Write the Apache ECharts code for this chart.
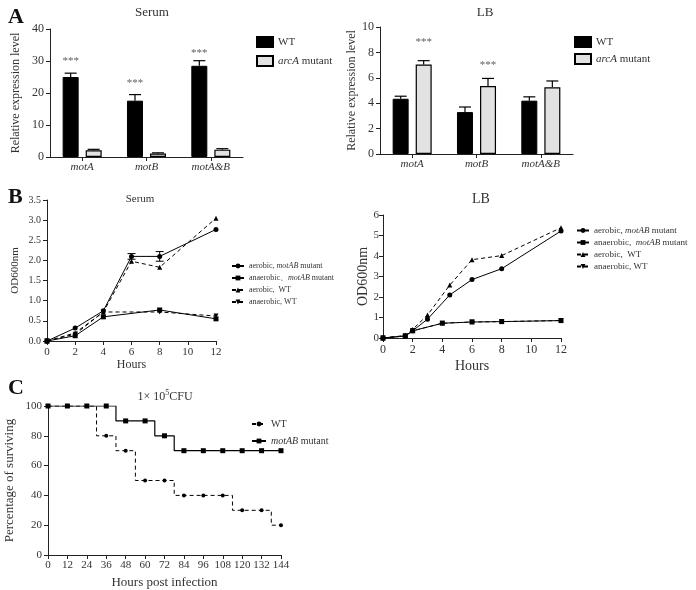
<!DOCTYPE html>
<html><head><meta charset="utf-8">
<script src="https://cdn.jsdelivr.net/npm/echarts@6/dist/echarts.min.js"></script>
<style>html,body{margin:0;padding:0;background:#fff}#c{width:696px;height:590px}</style>
</head><body><div id="c"></div>
<script>
// ---------- DATA ----------
const geneCats = ['motA', 'motB', 'motA&B'];
const serumWT = [25.0, 17.6, 28.5];
const serumWTErr = [1.2, 1.9, 1.6];
const serumMut = [2.1, 1.1, 2.3];
const serumMutErr = [0.3, 0.2, 0.3];
const serumStars = [30, 23, 32.5];          // above WT bars
const lbWT = [4.35, 3.3, 4.2];
const lbWTErr = [0.2, 0.4, 0.3];
const lbMut = [7.05, 5.35, 5.25];
const lbMutErr = [0.3, 0.6, 0.5];
const lbStars = [8.8, 7.0, null];           // above mutant bars

// Growth in serum
const serumAerMutHours = [0, 2, 4, 6, 8, 12];
const serumAerMut = [0, 0.32, 0.75, 2.1, 2.1, 2.77];
const serumAerMutErr = [0, 0, 0, 0.07, 0.12, 0];
const serumAnaMutHours = [0, 2, 4, 8, 12];
const serumAnaMut = [0, 0.13, 0.6, 0.77, 0.55];
const serumAerWTHours = [0, 2, 4, 6, 8, 12];
const serumAerWT = [0, 0.2, 0.72, 1.98, 1.83, 3.05];
const serumAnaWTHours = [0, 2, 4, 8, 12];
const serumAnaWT = [0, 0.17, 0.72, 0.72, 0.62];

// Growth in LB
const lbAerMutHours = [0, 1.5, 2, 3, 4.5, 6, 8, 12];
const lbAerMut = [0, 0.1, 0.35, 0.92, 2.1, 2.85, 3.38, 5.22];
const lbAnaMutHours = [0, 1.5, 2, 4, 6, 8, 12];
const lbAnaMut = [0, 0.1, 0.35, 0.72, 0.78, 0.8, 0.85];
const lbAerWTHours = [0, 1.5, 2, 3, 4.5, 6, 8, 12];
const lbAerWT = [0, 0.12, 0.42, 1.12, 2.58, 3.82, 4.02, 5.38];
const lbAnaWTHours = [0, 1.5, 2, 4, 6, 8, 12];
const lbAnaWT = [0, 0.1, 0.35, 0.72, 0.78, 0.8, 0.85];

// Survival
const survHours = [0, 12, 24, 36, 48, 60, 72, 84, 96, 108, 120, 132, 144];
const survWT = [100, 100, 100, 80, 70, 50, 50, 40, 40, 40, 30, 30, 20];
const survMut = [100, 100, 100, 100, 90, 90, 80, 70, 70, 70, 70, 70, 70];
const wtDropHours = [30, 42, 54, 78, 114, 138];
const wtDropVals = [80, 70, 50, 40, 30, 20];
const mutDropHours = [42, 66, 78];
const mutDropVals = [90, 80, 70];

// ---------- BUILD ----------
const F = 'Liberation Serif';
const TC = '#333';
const zip = (xs, ys) => xs.map((x, i) => [x, ys[i]]);
function kmData(h, v, dh, dv) {
  const pts = h.map((x, i) => ({ value: [x, v[i]] }));
  dh.forEach((x, i) => pts.push({ value: [x, dv[i]], symbol: 'none' }));
  pts.sort((a, b) => a.value[0] - b.value[0] || b.value[1] - a.value[1]);
  return pts;
}
function errSeries(name, xi, yi, vals, errs, dx, cap) {
  return {
    type: 'custom', name: name, xAxisIndex: xi, yAxisIndex: yi, silent: true, z: 5,
    data: vals.map((v, i) => [i, v, errs[i]]),
    renderItem: function (params, api) {
      const a = api.coord([api.value(0), api.value(1)]);
      const b = api.coord([api.value(0), api.value(1) + api.value(2)]);
      const x = a[0] + dx;
      return { type: 'group', children: [
        { type: 'line', shape: { x1: x, y1: a[1], x2: x, y2: b[1] }, style: { stroke: '#000', lineWidth: 1.2 } },
        { type: 'line', shape: { x1: x - cap, y1: b[1], x2: x + cap, y2: b[1] }, style: { stroke: '#000', lineWidth: 1.2 } }
      ]};
    }
  };
}
function lineErr(xi, yi, hours, vals, errs) {
  const d = [];
  hours.forEach((h, i) => { if (errs[i] > 0) d.push([h, vals[i], errs[i]]); });
  return {
    type: 'custom', xAxisIndex: xi, yAxisIndex: yi, silent: true, z: 5, data: d,
    renderItem: function (params, api) {
      const lo = api.coord([api.value(0), api.value(1) - api.value(2)]);
      const hi = api.coord([api.value(0), api.value(1) + api.value(2)]);
      const st = { stroke: '#000', lineWidth: 1 };
      return { type: 'group', children: [
        { type: 'line', shape: { x1: lo[0], y1: lo[1], x2: hi[0], y2: hi[1] }, style: st },
        { type: 'line', shape: { x1: lo[0] - 4, y1: lo[1], x2: lo[0] + 4, y2: lo[1] }, style: st },
        { type: 'line', shape: { x1: hi[0] - 4, y1: hi[1], x2: hi[0] + 4, y2: hi[1] }, style: st }
      ]};
    }
  };
}
const axLine = { show: true, lineStyle: { color: '#222', width: 1 } };
const axTick = { show: true, inside: false, length: 4, lineStyle: { color: '#222' } };
function valAxis(gi, min, max, interval, fs, fmt, extra) {
  return Object.assign({
    type: 'value', gridIndex: gi, min: min, max: max, interval: interval,
    axisLine: axLine, axisTick: axTick, splitLine: { show: false },
    axisLabel: { color: TC, fontFamily: F, fontSize: fs, margin: 6, formatter: fmt }
  }, extra || {});
}
const triDown = 'path://M0,0L10,0L5,9Z';
const lineStyles = {
  aerMut: { symbol: 'circle', symbolSize: 5, dashed: false },
  anaMut: { symbol: 'rect', symbolSize: 5, dashed: false },
  aerWT: { symbol: 'triangle', symbolSize: 5, dashed: true },
  anaWT: { symbol: triDown, symbolSize: 5, dashed: true }
};
function growth(name, xi, key, hours, vals) {
  const s = lineStyles[key];
  return {
    type: 'line', name: name, xAxisIndex: xi, yAxisIndex: xi,
    data: zip(hours, vals), symbol: s.symbol, symbolSize: s.symbolSize,
    showAllSymbol: true,
    itemStyle: { color: '#000' },
    lineStyle: { color: '#000', width: 1, type: s.dashed ? [4, 3] : 'solid' }
  };
}

const nameMap = {
  'sWT': 'WT', 'sMut': '{i|arcA} mutant',
  'b1': 'aerobic, {i|motAB} mutant', 'b2': 'anaerobic\u3001{i|motAB} mutant', 'b3': 'aerobic,  WT', 'b4': 'anaerobic, WT',
  'l1': 'aerobic, {i|motAB} mutant', 'l2': 'anaerobic,  {i|motAB} mutant', 'l3': 'aerobic,  WT', 'l4': 'anaerobic, WT',
  'cWT': 'WT', 'cMut': '{i|motAB} mutant'
};
function legend(data, left, top, fs, iw, ih, gap, icon) {
  const l = {
    data: data, left: left, top: top, orient: 'vertical', itemWidth: iw, itemHeight: ih, itemGap: gap,
    selectedMode: false, formatter: n => nameMap[n] || n,
    textStyle: { fontFamily: F, fontSize: fs, color: TC, padding: [0, 0, 0, 0],
      rich: { i: { fontFamily: F, fontSize: fs, fontStyle: 'italic', color: TC } } }
  };
  if (icon) l.icon = icon;
  return l;
}

const option = {
  animation: false,
  backgroundColor: '#fff',
  title: [
    { text: 'A', left: 3, top: 1, textStyle: { fontFamily: F, fontSize: 22, fontWeight: 'bold', color: '#111' } },
    { text: 'B', left: 3, top: 181, textStyle: { fontFamily: F, fontSize: 22, fontWeight: 'bold', color: '#111' } },
    { text: 'C', left: 3, top: 372, textStyle: { fontFamily: F, fontSize: 22, fontWeight: 'bold', color: '#111' } },
    { text: 'Serum', left: 147, top: 1, textAlign: 'center', textStyle: { fontFamily: F, fontSize: 13, fontWeight: 'normal', color: TC } },
    { text: 'LB', left: 480, top: 1, textAlign: 'center', textStyle: { fontFamily: F, fontSize: 13, fontWeight: 'normal', color: TC } },
    { text: 'Serum', left: 135, top: 189, textAlign: 'center', textStyle: { fontFamily: F, fontSize: 11, fontWeight: 'normal', color: TC } },
    { text: 'LB', left: 476, top: 187, textAlign: 'center', textStyle: { fontFamily: F, fontSize: 14, fontWeight: 'normal', color: TC } },
    { text: '{a|1\u00d7 10}{s|5}{a|CFU}', left: 160, top: 384, textAlign: 'center',
      textStyle: { fontWeight: 'normal', rich: { a: { fontFamily: F, fontSize: 12, fontWeight: 'normal', color: TC }, s: { fontFamily: F, fontSize: 8, fontWeight: 'normal', color: TC, verticalAlign: 'bottom', padding: [0, 0, 7, 0] } } } }
  ],
  legend: [
    legend(['sWT', 'sMut'], 251, 31, 11, 16, 10, 7, 'rect'),
    legend(['sWT', 'sMut'], 569, 31, 11, 16, 10, 5, 'rect'),
    legend(['b1', 'b2', 'b3', 'b4'], 226, 257, 8, 12, 6, 4),
    legend(['l1', 'l2', 'l3', 'l4'], 571, 221, 9, 12, 6, 3),
    legend(['cWT', 'cMut'], 246, 414, 10, 14, 6, 7)
  ],
  grid: [
    { left: 50, top: 29, width: 193, height: 128 },
    { left: 380, top: 27, width: 193, height: 127 },
    { left: 47, top: 200, width: 169, height: 141 },
    { left: 383, top: 215, width: 178, height: 123 },
    { left: 48, top: 406, width: 233, height: 151 }
  ],
  xAxis: [
    { type: 'category', gridIndex: 0, data: geneCats, axisLine: axLine, axisTick: Object.assign({}, axTick, { alignWithLabel: true }),
      axisLabel: { color: TC, fontFamily: F, fontSize: 11, fontStyle: 'italic', margin: 5 } },
    { type: 'category', gridIndex: 1, data: geneCats, axisLine: axLine, axisTick: Object.assign({}, axTick, { alignWithLabel: true }),
      axisLabel: { color: TC, fontFamily: F, fontSize: 11, fontStyle: 'italic', margin: 5 } },
    valAxis(2, 0, 12, 2, 11, null, { name: 'Hours', nameLocation: 'middle', nameGap: 18, nameTextStyle: { fontFamily: F, fontSize: 12, color: TC } }),
    valAxis(3, 0, 12, 2, 12, null, { name: 'Hours', nameLocation: 'middle', nameGap: 21, nameTextStyle: { fontFamily: F, fontSize: 14, color: TC } }),
    valAxis(4, 0, 144, 12, 11, null, { name: 'Hours post infection', nameLocation: 'middle', nameGap: 21,
      nameTextStyle: { fontFamily: F, fontSize: 13, color: TC }, axisLabel: { color: TC, fontFamily: F, fontSize: 11, margin: 5 } })
  ],
  yAxis: [
    valAxis(0, 0, 40, 10, 12, null, { name: 'Relative expression level', nameLocation: 'middle', nameGap: 28, nameTextStyle: { fontFamily: F, fontSize: 12, color: TC } }),
    valAxis(1, 0, 10, 2, 12, null, { name: 'Relative expression level', nameLocation: 'middle', nameGap: 21, nameTextStyle: { fontFamily: F, fontSize: 12, color: TC } }),
    valAxis(2, 0, 3.5, 0.5, 10, v => v.toFixed(1), { name: 'OD600nm', nameLocation: 'middle', nameGap: 26, nameTextStyle: { fontFamily: F, fontSize: 11, color: TC } }),
    valAxis(3, 0, 6, 1, 11, null, { name: 'OD600nm', nameLocation: 'middle', nameGap: 13, nameMoveOverlap: false,
      nameTextStyle: { fontFamily: F, fontSize: 14, color: TC }, axisLabel: { color: TC, fontFamily: F, fontSize: 11, margin: 4 } }),
    valAxis(4, 0, 100, 20, 11, null, { name: 'Percentage of surviving', nameLocation: 'middle', nameGap: 32, nameTextStyle: { fontFamily: F, fontSize: 13, color: TC } })
  ],
  series: [
    { type: 'bar', name: 'sWT', xAxisIndex: 0, yAxisIndex: 0, data: serumWT, barWidth: 16, barGap: '44%', itemStyle: { color: '#000', borderColor: '#000', borderWidth: 1 } },
    { type: 'bar', name: 'sMut', xAxisIndex: 0, yAxisIndex: 0, data: serumMut, barWidth: 16, barGap: '44%', itemStyle: { color: '#e2e2e2', borderColor: '#000', borderWidth: 1.2 } },
    errSeries('e1', 0, 0, serumWT, serumWTErr, -11.5, 6),
    errSeries('e2', 0, 0, serumMut, serumMutErr, 11.5, 6),
    { type: 'scatter', xAxisIndex: 0, yAxisIndex: 0, symbolSize: 0, data: serumStars.map((v, i) => [i, v]),
      label: { show: true, position: 'inside', formatter: '***', offset: [-11.5, 0], fontFamily: F, fontSize: 11, color: '#333' } },
    { type: 'bar', name: 'sWT', xAxisIndex: 1, yAxisIndex: 1, data: lbWT, barWidth: 16, barGap: '44%', itemStyle: { color: '#000', borderColor: '#000', borderWidth: 1 } },
    { type: 'bar', name: 'sMut', xAxisIndex: 1, yAxisIndex: 1, data: lbMut, barWidth: 16, barGap: '44%', itemStyle: { color: '#e2e2e2', borderColor: '#000', borderWidth: 1.2 } },
    errSeries('e3', 1, 1, lbWT, lbWTErr, -11.5, 6),
    errSeries('e4', 1, 1, lbMut, lbMutErr, 11.5, 6),
    { type: 'scatter', xAxisIndex: 1, yAxisIndex: 1, symbolSize: 0, data: lbStars.map((v, i) => v == null ? null : [i, v]).filter(d => d),
      label: { show: true, position: 'inside', formatter: '***', offset: [11.5, 0], fontFamily: F, fontSize: 11, color: '#333' } },

    growth('b1', 2, 'aerMut', serumAerMutHours, serumAerMut),
    growth('b2', 2, 'anaMut', serumAnaMutHours, serumAnaMut),
    growth('b3', 2, 'aerWT', serumAerWTHours, serumAerWT),
    growth('b4', 2, 'anaWT', serumAnaWTHours, serumAnaWT),
    lineErr(2, 2, serumAerMutHours, serumAerMut, serumAerMutErr),

    growth('l1', 3, 'aerMut', lbAerMutHours, lbAerMut),
    growth('l2', 3, 'anaMut', lbAnaMutHours, lbAnaMut),
    growth('l3', 3, 'aerWT', lbAerWTHours, lbAerWT),
    growth('l4', 3, 'anaWT', lbAnaWTHours, lbAnaWT),

    { type: 'line', name: 'cWT', xAxisIndex: 4, yAxisIndex: 4, step: 'end', data: kmData(survHours, survWT, wtDropHours, wtDropVals),
      symbol: 'circle', symbolSize: 4, showAllSymbol: true, itemStyle: { color: '#000' }, lineStyle: { color: '#000', width: 1, type: [4, 3] } },
    { type: 'line', name: 'cMut', xAxisIndex: 4, yAxisIndex: 4, step: 'end', data: kmData(survHours, survMut, mutDropHours, mutDropVals),
      symbol: 'rect', symbolSize: 5, showAllSymbol: true, itemStyle: { color: '#000' }, lineStyle: { color: '#000', width: 1.2 } }
  ]
};
const chart = echarts.init(document.getElementById('c'), null, { renderer: 'canvas' });
chart.setOption(option);
</script></body></html>
